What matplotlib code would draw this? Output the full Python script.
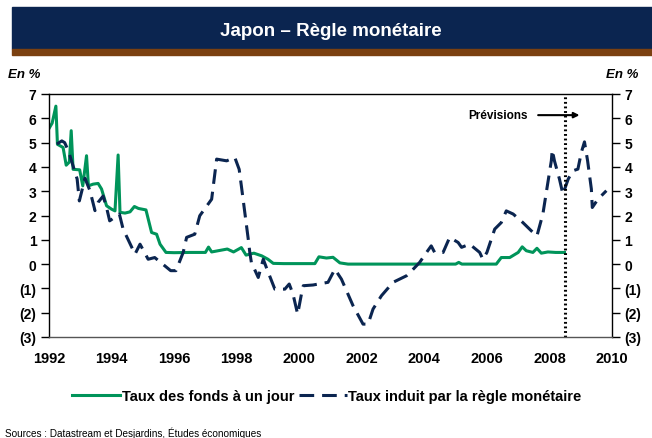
import matplotlib.pyplot as plt
from matplotlib.patches import Rectangle

plt.rcParams['font.family'] = ['Liberation Sans', 'DejaVu Sans']

# Taux des fonds a un jour
fonds_annee = [1992.0, 1992.1, 1992.22, 1992.27, 1992.45, 1992.55, 1992.65, 1992.71, 1992.77,
               1992.98, 1993.08, 1993.2, 1993.26, 1993.41, 1993.57, 1993.68, 1993.84, 1994.0,
               1994.11, 1994.21, 1994.27, 1994.43, 1994.59, 1994.73, 1994.86, 1995.1, 1995.28,
               1995.44, 1995.55, 1995.74, 1996.0, 1996.5, 1997.0, 1997.1, 1997.2, 1997.7, 1997.9,
               1998.15, 1998.3, 1998.55, 1998.8, 1999.0, 1999.17, 1999.5, 2000.0, 2000.5,
               2000.63, 2000.87, 2001.08, 2001.3, 2001.56, 2002.5, 2003.5, 2005.0, 2005.1,
               2005.2, 2006.3, 2006.46, 2006.73, 2007.0, 2007.13, 2007.26, 2007.47, 2007.6,
               2007.74, 2007.95, 2008.2, 2008.48]
fonds_taux = [5.58, 5.8, 6.5, 4.93, 4.8, 4.07, 4.2, 5.49, 3.9,
              3.88, 3.22, 4.46, 3.22, 3.29, 3.32, 3.09, 2.4, 2.26,
              2.19, 4.49, 2.13, 2.1, 2.15, 2.37, 2.29, 2.23, 1.3,
              1.23, 0.82, 0.48, 0.47, 0.48, 0.48, 0.7, 0.5, 0.62, 0.5,
              0.68, 0.37, 0.45, 0.34, 0.2, 0.03, 0.02, 0.02, 0.02,
              0.3, 0.25, 0.28, 0.05, 0.0, 0.0, 0.0, 0.0, 0.07,
              0.0, 0.0, 0.27, 0.27, 0.48, 0.71, 0.55, 0.48, 0.65,
              0.45, 0.5, 0.48, 0.48]

# Taux induit par la regle monetaire
regle_annee = [1992.25, 1992.41, 1992.5, 1992.62, 1992.9, 1992.97, 1993.15, 1993.31, 1993.47,
               1993.57, 1993.73, 1993.84, 1993.94, 1994.25, 1994.37, 1994.75, 1994.91, 1995.17,
               1995.38, 1995.89, 1996.06, 1996.29, 1996.4, 1996.66, 1996.82, 1997.2, 1997.36,
               1997.68, 1997.94, 1998.08, 1998.15, 1998.37, 1998.42, 1998.47, 1998.69, 1998.85,
               1998.97, 1999.22, 1999.54, 1999.68, 1999.8, 1999.95, 2000.08, 2000.13, 2000.44,
               2000.92, 2001.14, 2001.35, 2001.72, 2002.04, 2002.2, 2002.36, 2002.63, 2003.0,
               2003.43, 2003.6, 2003.85, 2004.07, 2004.22, 2004.33, 2004.6, 2004.81, 2005.08,
               2005.19, 2005.45, 2005.77, 2005.87, 2006.0, 2006.25, 2006.46, 2006.62, 2006.84,
               2007.15, 2007.42, 2007.6, 2007.79, 2007.95, 2008.06, 2008.09, 2008.16, 2008.32,
               2008.43, 2008.6, 2008.75, 2008.91, 2009.02, 2009.12, 2009.22, 2009.34, 2009.37,
               2009.55, 2009.82]
regle_taux = [4.94, 5.07, 5.0, 4.66, 3.5, 2.6, 3.53, 3.02, 2.2,
              2.54, 2.8, 2.33, 1.78, 2.06, 1.44, 0.41, 0.82, 0.2,
              0.27, -0.27, -0.27, 0.48, 1.1, 1.23, 1.99, 2.67, 4.32,
              4.25, 4.39, 3.9, 3.22, 1.03, 0.48, 0.07, -0.55, 0.2,
              -0.21, -1.03, -1.03, -0.82, -1.23, -2.06, -1.17, -0.89, -0.86,
              -0.75, -0.21, -0.62, -1.71, -2.47, -2.47, -1.85, -1.3, -0.75,
              -0.48, -0.27, 0.07, 0.48, 0.75, 0.48, 0.48, 1.1, 0.89,
              0.69, 0.82, 0.48, 0.2, 0.48, 1.44, 1.71, 2.19, 2.06,
              1.71, 1.37, 1.16, 2.06, 3.36, 4.25, 4.7, 4.25, 3.5,
              2.88, 3.5, 3.84, 3.91, 4.6, 5.03, 4.25, 3.09, 2.33,
              2.67, 3.02]

annees_ticks = list(range(1992, 2011, 2))
y_ticks = list(range(-3, 8))
y_labels = ['(3)', '(2)', '(1)', '0', '1', '2', '3', '4', '5', '6', '7']

vert = '#00945a'
marine = '#0b2550'

fig = plt.figure(figsize=(6.52, 4.39), dpi=100)

# bandeau du titre
fig.patches.append(Rectangle((12/652, 1-50/439), 1, 42/439, transform=fig.transFigure,
                             color=marine, zorder=0))
fig.patches.append(Rectangle((12/652, 1-56/439), 1, 6/439, transform=fig.transFigure,
                             color='#7b4010', zorder=0))
fig.text(331/652, 1-31/439, 'Japon – Règle monétaire', color='white', fontsize=13.5,
         fontweight='bold', ha='center', va='center')

ax = fig.add_axes([49/652, 1-338/439, 563/652, 243/439])
ax.plot(fonds_annee, fonds_taux, color=vert, lw=2.2, label='Taux des fonds à un jour')
ax.plot(regle_annee, regle_taux, color=marine, lw=2.2, dashes=(4.8, 2.6),
        label='Taux induit par la règle monétaire')

ax.axvline(2008.5, color='black', lw=2.2, linestyle=(0, (0.6, 0.9)))
ax.annotate('', xy=(2009.05, 6.13), xytext=(2007.55, 6.13),
            arrowprops=dict(arrowstyle='-|>', color='black', lw=1.5, mutation_scale=8))
ax.text(2007.3, 6.13, 'Prévisions', ha='right', va='center', fontsize=8.5, fontweight='bold')

ax.set_xlim(1992, 2010)
ax.set_ylim(-3, 7)
ax.set_xticks(annees_ticks)
ax.set_xticklabels([str(a) for a in annees_ticks], fontweight='bold', fontsize=10.5)
ax.set_yticks(y_ticks)
ax.set_yticklabels(y_labels, fontweight='bold', fontsize=10)
ax.tick_params(axis='x', length=0, pad=10)
ax.tick_params(axis='y', direction='out', length=6, width=1, left=True, right=True,
               labelleft=True, labelright=True, pad=3)
for s in ax.spines.values():
    s.set_linewidth(1)
ax.spines['bottom'].set_color('#555555')

fig.text(8/652, 1-75/439, 'En %', fontsize=9.5, fontweight='bold', style='italic', va='center')
fig.text(638/652, 1-75/439, 'En %', fontsize=9.5, fontweight='bold', style='italic',
         va='center', ha='right')

leg = fig.legend(loc='center', bbox_to_anchor=(327/652, 1-397/439), ncol=2, frameon=False,
                 handlelength=3.3, handletextpad=0.1, columnspacing=0.3,
                 prop={'weight': 'bold', 'size': 10.5})

fig.text(5/652, 1-433/439, 'Sources : Datastream et Desjardins, Études économiques',
         fontsize=7.2, va='center')

fig.savefig('out.png', dpi=100)
